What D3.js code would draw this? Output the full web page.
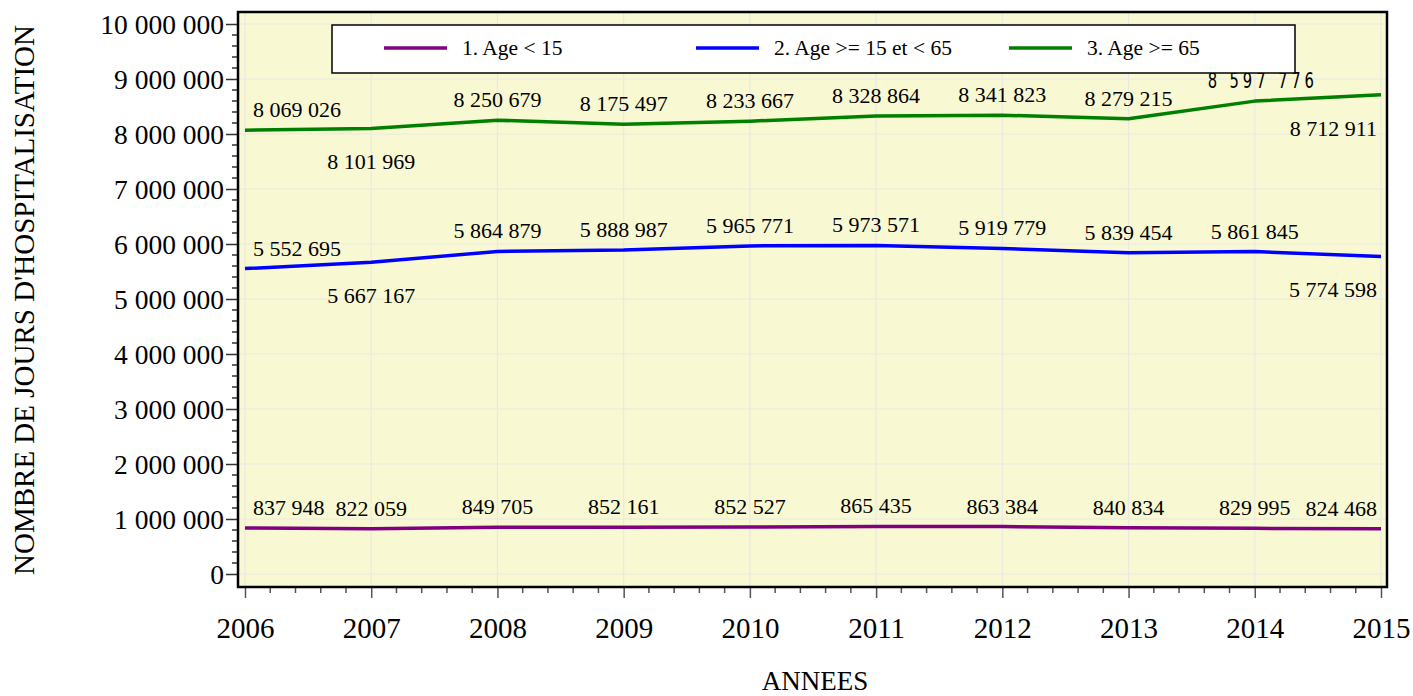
<!DOCTYPE html>
<html>
<head>
<meta charset="utf-8">
<script src="https://cdn.jsdelivr.net/npm/d3@7"></script>
<style>
  body { margin: 0; background: #fff; }
  svg { display: block; }
</style>
</head>
<body>
<div id="chart"></div>
<script>
// data
const years = [2006, 2007, 2008, 2009, 2010, 2011, 2012, 2013, 2014, 2015];
const ageUnder15 = [837948, 822059, 849705, 852161, 852527, 865435, 863384, 840834, 829995, 824468];
const age15to65 = [5552695, 5667167, 5864879, 5888987, 5965771, 5973571, 5919779, 5839454, 5861845, 5774598];
const age65plus = [8069026, 8101969, 8250679, 8175497, 8233667, 8328864, 8341823, 8279215, 8597776, 8712911];
const seriesNames = ["1. Age < 15", "2. Age >= 15 et < 65", "3. Age >= 65"];
const seriesColors = ["#800080", "#0000ff", "#008000"];
const yTicks = [0, 1000000, 2000000, 3000000, 4000000, 5000000, 6000000, 7000000, 8000000, 9000000, 10000000];

const serif = "'Liberation Serif', 'Times New Roman', serif";

var cfg = {
  width: 1413,
  height: 696,
  frame: {left: 238, top: 12, right: 1387, bottom: 587}
};

const fr = d3.formatLocale({decimal: ",", thousands: " ", grouping: [3], currency: ["", ""]});
const fmt = fr.format(",d");

var scale = {
  x: d3.scaleLinear().domain([2006, 2015]).range([245, 1381]),
  y: d3.scaleLinear().domain([0, 10000000]).range([574, 24])
};

const svg = d3.select("#chart").append("svg")
  .attr("width", cfg.width)
  .attr("height", cfg.height)
  .style("font-family", serif);

// plot background
svg.append("rect")
  .attr("x", cfg.frame.left)
  .attr("y", cfg.frame.top)
  .attr("width", cfg.frame.right - cfg.frame.left)
  .attr("height", cfg.frame.bottom - cfg.frame.top)
  .attr("fill", "#f8f8d3");

// grid
svg.append("g").selectAll("line")
  .data(yTicks).enter().append("line")
  .attr("x1", cfg.frame.left).attr("x2", cfg.frame.right)
  .attr("y1", d => scale.y(d)).attr("y2", d => scale.y(d))
  .attr("stroke", "#e9e9e3").attr("stroke-width", 1.2);
svg.append("g").selectAll("line")
  .data(years).enter().append("line")
  .attr("y1", cfg.frame.top).attr("y2", cfg.frame.bottom)
  .attr("x1", d => scale.x(d)).attr("x2", d => scale.x(d))
  .attr("stroke", "#e9e9e3").attr("stroke-width", 1.2);

// y axis
let yAxis = svg.append("g")
  .attr("transform", `translate(${cfg.frame.left}, 0)`)
  .call(d3.axisLeft(scale.y).tickValues(yTicks).tickFormat(fmt).tickSize(12).tickPadding(2));
yAxis.attr("font-family", serif);
yAxis.select(".domain").remove();
yAxis.selectAll("text").style("font-size", "27.5px").attr("fill", "#000").attr("dy", "0.34em");
yAxis.selectAll("line").attr("stroke", "#333").attr("stroke-width", 1.5);

let yMinor = d3.range(0, 10000001, 200000).filter(d => d % 1000000 !== 0);
svg.append("g").selectAll("line")
  .data(yMinor).enter().append("line")
  .attr("x1", cfg.frame.left - 6).attr("x2", cfg.frame.left)
  .attr("y1", d => scale.y(d)).attr("y2", d => scale.y(d))
  .attr("stroke", "#333").attr("stroke-width", 1.5);

// x axis
let xAxis = svg.append("g")
  .attr("transform", `translate(0, ${cfg.frame.bottom})`)
  .call(d3.axisBottom(scale.x).tickValues(years).tickFormat(d3.format("d")).tickSize(11).tickPadding(19));
xAxis.attr("font-family", serif);
xAxis.select(".domain").remove();
xAxis.selectAll("text").style("font-size", "29px").attr("fill", "#000");
xAxis.selectAll("line").attr("stroke", "#555").attr("stroke-width", 1.5);

let xMinor = d3.range(2006, 2015, 0.2).filter(d => Math.abs(d - Math.round(d)) > 0.01);
svg.append("g").selectAll("line")
  .data(xMinor).enter().append("line")
  .attr("y1", cfg.frame.bottom).attr("y2", cfg.frame.bottom + 6)
  .attr("x1", d => scale.x(d)).attr("x2", d => scale.x(d))
  .attr("stroke", "#555").attr("stroke-width", 1.5);

// axis titles
svg.append("text")
  .attr("transform", `translate(34, 300) rotate(-90)`)
  .attr("text-anchor", "middle")
  .style("font-size", "29px")
  .text("NOMBRE DE JOURS D'HOSPITALISATION");
svg.append("text")
  .attr("x", 815).attr("y", 690)
  .attr("text-anchor", "middle")
  .style("font-size", "27px")
  .text("ANNEES");

// lines
const allSeries = [ageUnder15, age15to65, age65plus];
const line = d3.line()
  .x((d, i) => scale.x(years[i]))
  .y(d => scale.y(d));

allSeries.forEach((vals, s) => {
  svg.append("path")
    .datum(vals)
    .attr("d", line)
    .attr("fill", "none")
    .attr("stroke", seriesColors[s])
    .attr("stroke-width", 3.5)
    .attr("stroke-linejoin", "round");
});

// point labels
allSeries.forEach((vals, s) => {
  svg.append("g").selectAll("text")
    .data(vals).enter().append("text")
    .attr("transform", (d, i) => {
      let below = s > 0 && (i === 1 || i === vals.length - 1);
      let x = scale.x(years[i]) + (i === 0 ? 8 : i === vals.length - 1 ? -4 : 0);
      let y = scale.y(d) + (below ? 41 : -13);
      // the 2014 label of the 65+ series comes out squeezed and spaced
      if (s === 2 && i === 8) return `translate(${x + 8},${y}) scale(0.78,1)`;
      return `translate(${x},${y})`;
    })
    .attr("text-anchor", (d, i) => i === 0 ? "start" : i === vals.length - 1 ? "end" : "middle")
    .style("font-size", "22px")
    .each(function(d, i) {
      if (s === 2 && i === 8) {
        d3.select(this)
          .style("font-family", "'Liberation Sans Narrow', 'DejaVu Sans Condensed', sans-serif")
          .style("letter-spacing", "5px")
          .style("font-size", "21px");
      }
    })
    .text(d => fmt(d));
});

// frame
svg.append("rect")
  .attr("x", cfg.frame.left)
  .attr("y", cfg.frame.top)
  .attr("width", cfg.frame.right - cfg.frame.left)
  .attr("height", cfg.frame.bottom - cfg.frame.top)
  .attr("fill", "none")
  .attr("stroke", "#000")
  .attr("stroke-width", 2.5);

// legend
let legend = svg.append("g");
legend.append("rect")
  .attr("x", 332).attr("y", 25)
  .attr("width", 963).attr("height", 48)
  .attr("fill", "#fff")
  .attr("stroke", "#000")
  .attr("stroke-width", 1.5);
const legendX = [384, 696, 1009];
seriesNames.forEach((name, s) => {
  legend.append("line")
    .attr("x1", legendX[s]).attr("x2", legendX[s] + 63)
    .attr("y1", 48).attr("y2", 48)
    .attr("stroke", seriesColors[s])
    .attr("stroke-width", 3.5);
  legend.append("text")
    .attr("x", legendX[s] + 78).attr("y", 55)
    .style("font-size", "21.5px")
    .text(name);
});
</script>
</body>
</html>
